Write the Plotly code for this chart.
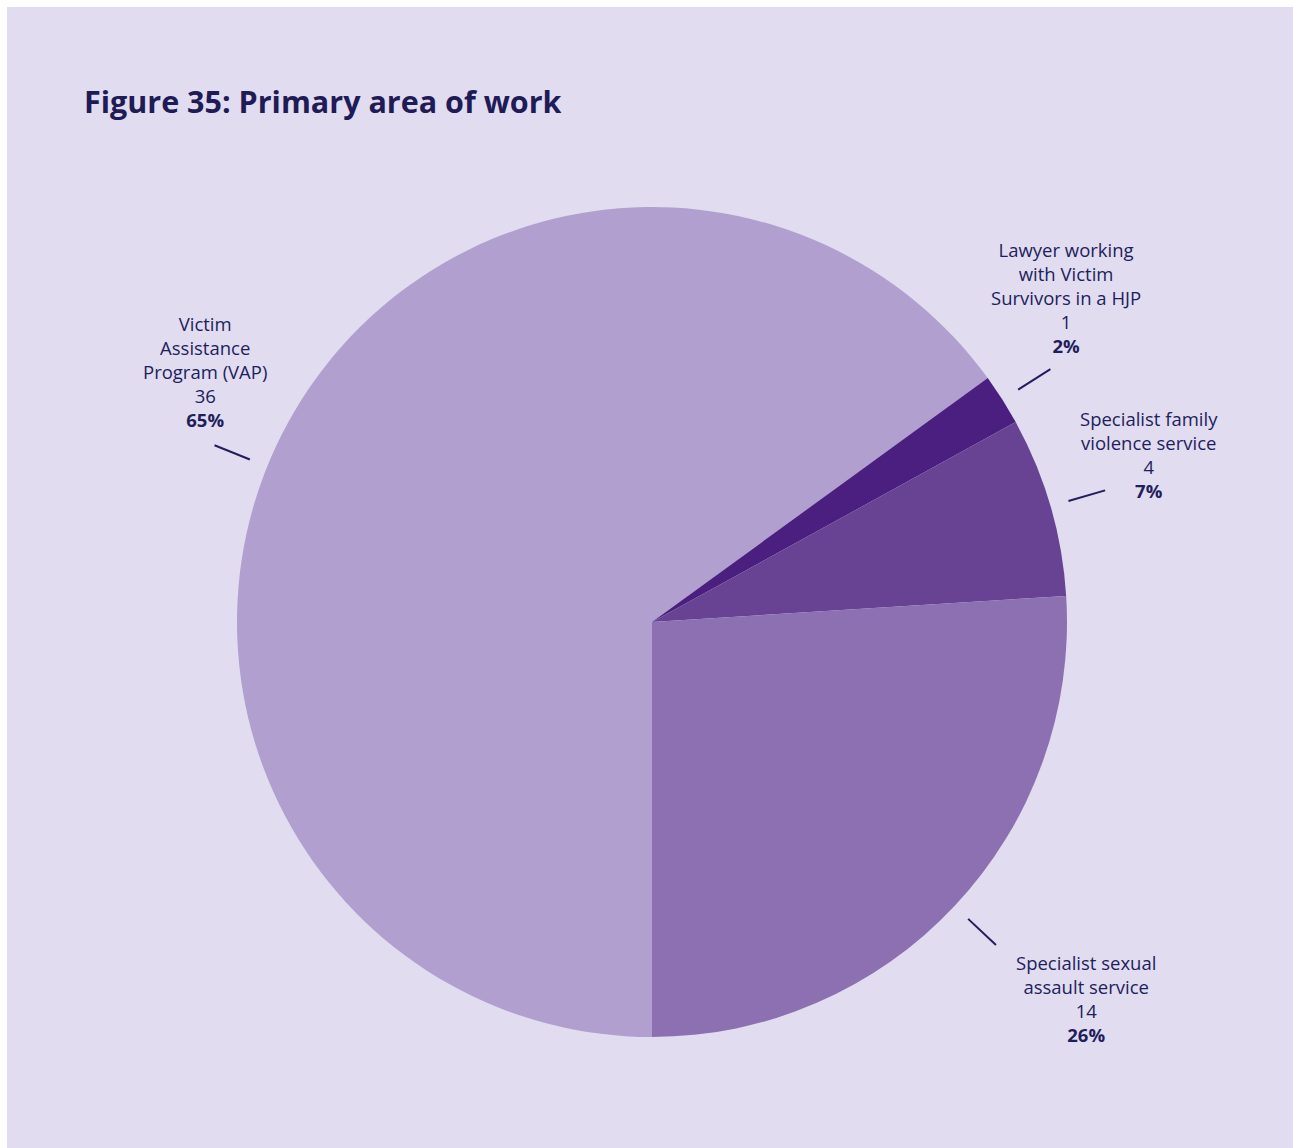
import math
import plotly.graph_objects as go

# Primary area of work: counts and the reported share of respondents,
# listed clockwise starting from 6 o'clock
categories = [
    "Victim<br>Assistance<br>Program (VAP)",
    "Lawyer working<br>with Victim<br>Survivors in a HJP",
    "Specialist family<br>violence service",
    "Specialist sexual<br>assault service",
]
counts = [36, 1, 4, 14]
percents = [65, 2, 7, 26]

slice_colors = ["#B09FCF", "#4B1F7F", "#694393", "#8C70B1"]
bg = "#E1DCF0"
ink = "#221E5C"

W, H = 1293, 1148
CX, CY, R = 652, 622, 415  # pie centre and radius in pixels
START = 180                # first slice starts at 6 o'clock, running clockwise

# label block offsets (pixels) from the outer end of each leader line,
# and a small angular nudge (degrees) for leader lines that sit off the slice middle
label_shift = [(-10, -74), (16, -72), (44, -36), (90, 53)]
leader_nudge = [-5, 0, 0, 0]

fig = go.Figure(
    go.Pie(
        labels=[c.replace("<br>", " ") for c in categories],
        values=percents,
        sort=False,
        direction="clockwise",
        rotation=START,
        marker=dict(colors=slice_colors, line=dict(width=0)),
        textinfo="none",
        hoverinfo="label+value",
        showlegend=False,
        domain=dict(
            x=[(CX - R) / W, (CX + R) / W],
            y=[1 - (CY + R) / H, 1 - (CY - R) / H],
        ),
    )
)


def to_paper(r, ang):
    """Polar position (pixels, degrees clockwise from 12 o'clock) to paper coords."""
    px = CX + r * math.sin(math.radians(ang))
    py = CY - r * math.cos(math.radians(ang))
    return px / W, 1 - py / H


total = sum(percents)
shapes = [
    dict(type="rect", xref="paper", yref="paper", x0=7 / W, x1=1, y0=0, y1=1 - 7 / H,
         fillcolor=bg, line=dict(width=0), layer="below")
]
annotations = [
    dict(text="<b>Figure 35: Primary area of work</b>", x=82 / W, y=1 - 101 / H,
         xref="paper", yref="paper", xanchor="left", yanchor="middle", showarrow=False,
         font=dict(family="Open Sans", size=30.5, color="#1E1B57"))
]

cum = 0
for name, n, p, (dx, dy), nudge in zip(categories, counts, percents, label_shift, leader_nudge):
    mid = START + (cum + p / 2) / total * 360 + nudge
    cum += p
    x0, y0 = to_paper(R * 1.045, mid)
    x1, y1 = to_paper(R * 1.137, mid)
    shapes.append(dict(type="line", xref="paper", yref="paper", x0=x0, y0=y0, x1=x1, y1=y1,
                       line=dict(color=ink, width=2)))
    annotations.append(dict(
        text=f"{name}<br>{n}<br><b>{p}%</b>",
        x=x1, y=y1, xref="paper", yref="paper", xanchor="center", yanchor="middle",
        xshift=dx, yshift=-dy, showarrow=False, align="center",
        font=dict(family="Open Sans", size=18.5, color=ink),
    ))

fig.update_layout(
    width=W, height=H,
    margin=dict(l=0, r=0, t=0, b=0),
    paper_bgcolor="white",
    plot_bgcolor=bg,
    shapes=shapes,
    annotations=annotations,
)

fig.write_html("out.html")
